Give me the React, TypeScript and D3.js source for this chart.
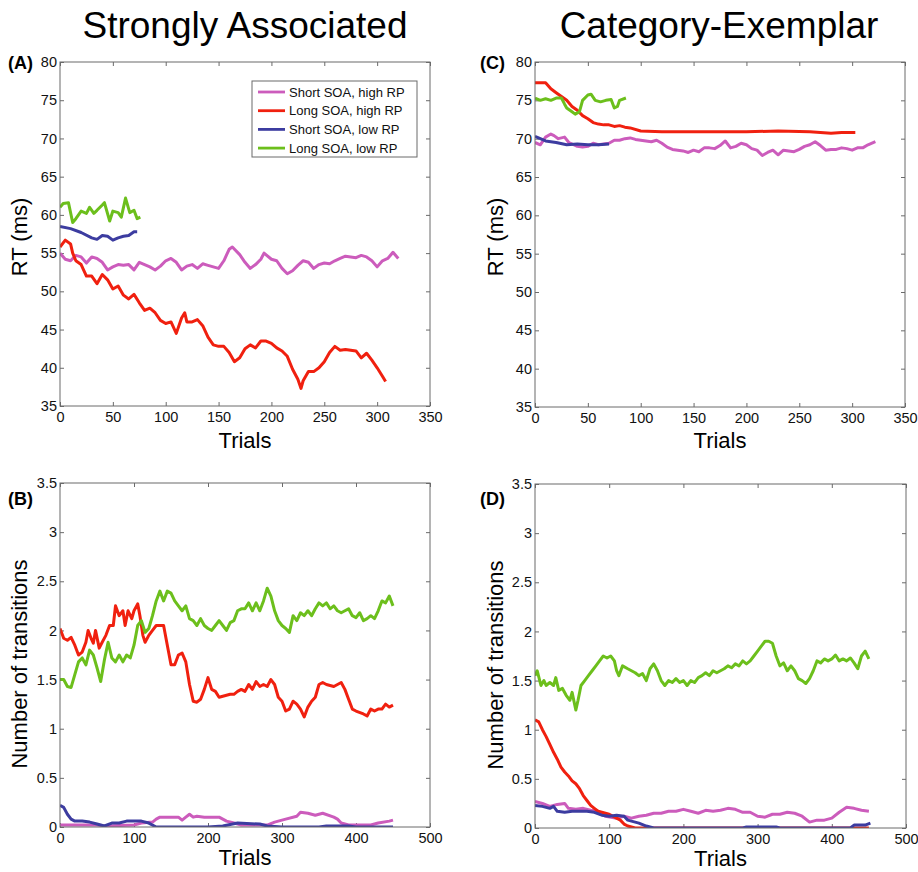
import React, { useEffect, useRef } from 'react';
import * as d3 from 'd3';

// series names + colours
const seriesNames = ['Short SOA, high RP', 'Long SOA, high RP', 'Short SOA, low RP', 'Long SOA, low RP'];
const seriesColors = ['#cc5cbc', '#f0200f', '#3c3ca0', '#6cbf1c'];

// tick values
const rtTicks = [35, 40, 45, 50, 55, 60, 65, 70, 75, 80];
const rtTrialTicks = [0, 50, 100, 150, 200, 250, 300, 350];
const transTicks = [0, 0.5, 1, 1.5, 2, 2.5, 3, 3.5];
const transTrialTicks = [0, 100, 200, 300, 400, 500];

// (A) Strongly associated, RT - [trial, value]
const aPink = [[0,55],[5,54.2],[10,54],[15,54.7],[20,54.5],[25,53.7],[30,54.5],[35,54.3],[40,53.8],[45,52.8],[50,53.2],[55,53.5],[60,53.4],[65,53.5],[70,52.8],[75,53.8],[80,53.5],[85,53.2],[90,52.8],[95,53.3],[100,54],[105,54.3],[110,53.8],[115,52.8],[120,53.3],[125,53.5],[130,53],[135,53.6],[140,53.4],[145,53.2],[150,53],[155,54],[160,55.5],[163,55.8],[170,54.8],[175,53.8],[180,53],[185,53.5],[190,54.2],[193,55],[200,54.2],[205,54],[210,53],[215,52.3],[220,52.7],[225,53.4],[230,54],[235,53.8],[240,53],[245,53.5],[250,53.7],[255,53.6],[260,54],[265,54.3],[270,54.6],[275,54.5],[280,54.4],[285,54.7],[290,54.5],[295,54],[300,53.2],[305,54],[310,54.3],[315,55.1],[320,54.3]];
const aRed = [[0,55.8],[5,56.7],[10,56.2],[12,55],[15,54],[20,53.5],[25,52],[30,52],[35,51],[40,52.2],[45,51.5],[50,50.3],[55,50.7],[60,49.5],[65,49],[70,49.6],[75,48.5],[80,47.5],[85,47.8],[90,47.2],[95,46.2],[100,45.8],[105,46],[110,44.5],[115,46.5],[118,47.2],[120,46],[125,46],[130,46.3],[135,45.5],[140,44],[145,43],[150,42.8],[155,42.8],[160,42],[165,40.8],[170,41.3],[175,42.5],[180,43],[185,42.6],[190,43.5],[195,43.5],[200,43.2],[205,42.6],[210,42.2],[215,41.5],[220,39.8],[225,38.5],[228,37.3],[230,38.3],[235,39.5],[240,39.5],[245,40],[250,40.8],[255,42],[260,42.8],[265,42.3],[270,42.4],[275,42.3],[280,42.2],[285,41.3],[290,41.9],[295,41],[300,40],[305,38.9],[308,38.2]];
const aBlue = [[0,58.5],[10,58.2],[20,57.7],[30,57],[35,56.8],[40,57.3],[45,57.2],[50,56.7],[55,57],[60,57.2],[65,57.3],[70,57.8],[73,57.8]];
const aGreen = [[0,61],[3,61.5],[8,61.6],[12,59],[15,59.5],[20,60.5],[25,60.2],[28,61],[32,60.2],[35,60.6],[40,61.3],[42,61.6],[47,59.2],[50,60.5],[55,60.3],[58,59.7],[62,62.2],[66,60.3],[70,60.6],[73,59.5],[76,59.7]];

// (C) Category-exemplar, RT
const cPink = [[0,69.5],[5,69.2],[10,70.2],[15,70.6],[18,70.4],[22,70],[28,70.2],[32,69.5],[40,69],[45,68.9],[50,69],[55,69.4],[60,69.2],[65,69.3],[70,69.4],[75,69.8],[80,69.8],[85,70],[90,70.1],[95,69.9],[100,69.8],[110,69.6],[115,69.8],[120,69.4],[125,68.9],[130,68.6],[140,68.4],[145,68.2],[150,68.5],[155,68.3],[160,68.8],[165,68.8],[170,68.7],[175,69.1],[180,69.7],[185,68.8],[190,69],[195,69.4],[200,69.2],[205,68.7],[210,68.5],[215,67.8],[220,68.2],[225,68.5],[230,67.9],[235,68.5],[240,68.4],[245,68.3],[250,68.6],[255,69],[260,69.2],[265,69.6],[270,69.1],[275,68.5],[280,68.6],[285,68.6],[290,68.8],[295,68.7],[300,68.5],[305,68.8],[310,68.8],[315,69.2],[322,69.6]];
const cRed = [[0,77.3],[10,77.3],[15,76.5],[20,76],[25,75.5],[30,75],[35,74.2],[40,73.7],[45,73],[50,72.6],[55,72.1],[60,71.9],[65,71.8],[70,71.8],[75,71.6],[80,71.7],[85,71.5],[90,71.4],[100,71],[120,70.9],[150,70.9],[200,70.9],[230,71],[260,70.9],[280,70.7],[290,70.8],[303,70.8]];
const cBlue = [[0,70.3],[10,69.7],[20,69.5],[30,69.2],[40,69.3],[50,69.2],[60,69.2],[70,69.3]];
const cGreen = [[0,75.3],[5,75],[10,75.2],[15,75],[20,75.3],[25,75.3],[28,74.5],[30,74],[35,73.5],[38,73.2],[42,73.5],[45,75],[50,75.7],[53,75.8],[57,75],[62,74.8],[67,75],[72,75.1],[75,74],[78,74.2],[80,75],[86,75.3]];

// (B) Strongly associated, transitions
const bPink = [[0,0.02],[50,0.02],[60,0.01],[100,0.02],[110,0.04],[125,0.05],[130,0.08],[135,0.1],[160,0.1],[165,0.07],[170,0.1],[175,0.13],[180,0.1],[185,0.11],[195,0.1],[215,0.1],[225,0.06],[235,0.04],[245,0.02],[280,0.02],[290,0.05],[305,0.08],[320,0.11],[325,0.15],[335,0.14],[345,0.12],[355,0.14],[370,0.1],[375,0.08],[380,0.04],[390,0.02],[420,0.02],[430,0.04],[445,0.06],[450,0.07]];
const bRed = [[0,2.02],[5,1.92],[10,1.9],[15,1.93],[20,1.85],[25,1.75],[30,1.78],[35,1.88],[38,2],[42,1.92],[45,1.87],[48,2],[53,1.82],[57,1.88],[62,1.95],[67,2.05],[72,2.05],[75,2.25],[80,2.15],[85,2.2],[88,2.05],[92,2.2],[97,2.12],[100,2.2],[105,2.27],[108,2.15],[112,1.95],[115,1.88],[120,1.95],[125,2],[130,2.05],[140,2.05],[145,1.85],[150,1.65],[155,1.65],[160,1.75],[165,1.77],[170,1.68],[175,1.45],[180,1.28],[185,1.27],[190,1.3],[195,1.4],[200,1.52],[205,1.4],[210,1.38],[215,1.32],[220,1.33],[230,1.35],[235,1.35],[240,1.38],[245,1.4],[250,1.38],[255,1.45],[260,1.4],[265,1.48],[270,1.43],[275,1.45],[280,1.43],[285,1.5],[290,1.45],[295,1.32],[300,1.28],[305,1.18],[310,1.2],[315,1.28],[320,1.25],[325,1.2],[330,1.12],[335,1.22],[340,1.28],[345,1.32],[350,1.45],[355,1.47],[360,1.45],[370,1.43],[375,1.45],[380,1.47],[385,1.4],[390,1.3],[395,1.2],[400,1.18],[410,1.15],[415,1.13],[420,1.2],[425,1.18],[430,1.2],[435,1.2],[440,1.25],[445,1.22],[450,1.24]];
const bBlue = [[0,0.22],[5,0.2],[10,0.13],[15,0.08],[20,0.06],[30,0.06],[40,0.05],[50,0.03],[60,0.01],[70,0.04],[80,0.04],[90,0.06],[100,0.06],[110,0.06],[120,0.04],[130,0],[150,0],[200,0],[220,0.01],[240,0.04],[270,0.03],[280,0.01],[300,0],[350,0],[360,0.01],[390,0.01],[400,0],[450,0]];
const bGreen = [[0,1.5],[5,1.5],[10,1.43],[15,1.42],[20,1.55],[25,1.68],[30,1.72],[35,1.65],[40,1.8],[45,1.75],[50,1.62],[55,1.48],[60,1.7],[65,1.88],[70,1.72],[75,1.68],[80,1.75],[85,1.68],[90,1.75],[95,1.72],[100,1.85],[105,2.05],[110,2.1],[115,1.98],[120,2.02],[125,2.15],[130,2.3],[135,2.4],[140,2.3],[145,2.4],[150,2.38],[155,2.3],[160,2.25],[165,2.2],[170,2.25],[175,2.12],[180,2.1],[185,2.05],[190,2.12],[195,2.05],[200,2.02],[205,2],[210,2.05],[215,2.1],[220,2.05],[225,2],[230,2.08],[235,2.1],[240,2.2],[245,2.22],[250,2.22],[255,2.28],[260,2.2],[265,2.28],[270,2.2],[275,2.3],[280,2.43],[285,2.35],[290,2.2],[295,2.1],[300,2.05],[305,2.02],[310,1.98],[315,2.15],[320,2.1],[325,2.18],[330,2.15],[335,2.2],[340,2.15],[345,2.22],[350,2.28],[355,2.25],[360,2.28],[365,2.22],[370,2.25],[375,2.2],[380,2.18],[385,2.2],[390,2.22],[395,2.15],[400,2.13],[405,2.18],[410,2.1],[415,2.12],[420,2.15],[425,2.12],[430,2.2],[435,2.3],[440,2.28],[445,2.35],[450,2.25]];

// (D) Category-exemplar, transitions
const dPink = [[0,0.27],[10,0.25],[20,0.22],[30,0.24],[40,0.25],[45,0.2],[55,0.19],[65,0.2],[75,0.18],[85,0.17],[90,0.15],[95,0.12],[110,0.1],[120,0.12],[130,0.1],[140,0.12],[150,0.13],[160,0.15],[170,0.15],[180,0.17],[190,0.17],[200,0.19],[210,0.17],[220,0.15],[230,0.18],[240,0.17],[250,0.18],[260,0.2],[270,0.19],[280,0.16],[290,0.16],[300,0.12],[310,0.11],[320,0.14],[330,0.14],[340,0.16],[350,0.15],[360,0.12],[370,0.06],[380,0.08],[390,0.08],[400,0.1],[410,0.16],[420,0.21],[430,0.2],[440,0.18],[450,0.17]];
const dRed = [[0,1.1],[5,1.08],[10,1],[15,0.93],[20,0.85],[25,0.77],[30,0.7],[35,0.62],[40,0.57],[45,0.53],[50,0.48],[55,0.45],[60,0.4],[65,0.33],[70,0.28],[75,0.23],[80,0.2],[85,0.17],[90,0.16],[100,0.14],[110,0.1],[115,0.08],[120,0.04],[125,0.02],[130,0.01],[135,0],[450,0]];
const dBlue = [[0,0.23],[10,0.22],[20,0.2],[25,0.22],[30,0.17],[40,0.16],[50,0.17],[60,0.17],[70,0.17],[80,0.16],[90,0.13],[100,0.12],[110,0.13],[120,0.12],[125,0.08],[140,0.05],[150,0.02],[160,0],[280,0],[285,0.01],[325,0.01],[330,0],[425,0],[430,0.03],[445,0.03],[452,0.05]];
const dGreen = [[0,1.55],[3,1.6],[8,1.45],[12,1.5],[15,1.45],[20,1.48],[25,1.45],[28,1.53],[32,1.4],[37,1.42],[42,1.35],[47,1.3],[50,1.38],[55,1.2],[58,1.3],[62,1.45],[67,1.5],[72,1.55],[77,1.6],[82,1.65],[87,1.7],[92,1.75],[97,1.73],[102,1.75],[107,1.7],[110,1.6],[113,1.55],[118,1.65],[125,1.62],[130,1.6],[135,1.58],[140,1.55],[145,1.57],[150,1.5],[155,1.62],[160,1.67],[165,1.6],[170,1.5],[175,1.45],[180,1.5],[185,1.48],[190,1.52],[195,1.48],[200,1.5],[205,1.45],[210,1.5],[215,1.48],[220,1.53],[225,1.55],[230,1.58],[235,1.55],[240,1.6],[245,1.58],[250,1.6],[255,1.62],[260,1.65],[265,1.63],[270,1.67],[275,1.65],[280,1.7],[285,1.67],[290,1.7],[295,1.75],[300,1.8],[305,1.85],[310,1.9],[315,1.9],[320,1.88],[325,1.75],[330,1.65],[335,1.68],[340,1.6],[345,1.65],[350,1.6],[355,1.52],[360,1.5],[365,1.47],[370,1.52],[375,1.6],[380,1.7],[385,1.68],[390,1.72],[395,1.7],[400,1.72],[405,1.76],[410,1.7],[415,1.72],[420,1.7],[425,1.73],[430,1.68],[435,1.62],[440,1.75],[445,1.8],[450,1.72]];

const FONT = '"Liberation Sans", Arial, sans-serif';

type Pt = number[];
type PanelProps = {
  id: string;
  tag: string;
  tagX: number;
  tagY: number;
  left: number;
  top: number;
  width: number;
  height: number;
  xTicks: number[];
  yTicks: number[];
  yLabel: string;
  yLabelY: number;
  yLabelX: number;
  trialsY: number;
  series: Pt[][];
  legend?: boolean;
};

const Panel = (p: PanelProps) => {
  const gRef = useRef<SVGGElement>(null);
  const x = d3.scaleLinear().domain([p.xTicks[0], p.xTicks[p.xTicks.length - 1]]).range([0, p.width]);
  const y = d3.scaleLinear().domain([p.yTicks[0], p.yTicks[p.yTicks.length - 1]]).range([p.height, 0]);

  useEffect(() => {
    const g = d3.select(gRef.current);
    g.selectAll('*').remove();
    const fmt = (d: any) => String(d);

    // axes (inward ticks, matlab style)
    const bottom = g.append('g').attr('transform', `translate(0,${p.height})`)
      .call(d3.axisBottom(x).tickValues(p.xTicks).tickSize(-4).tickPadding(6).tickFormat(fmt));
    const left = g.append('g')
      .call(d3.axisLeft(y).tickValues(p.yTicks).tickSize(-4).tickPadding(3).tickFormat(fmt));
    g.append('g').call(d3.axisTop(x).tickValues(p.xTicks).tickSize(-4).tickFormat(() => ''));
    g.append('g').attr('transform', `translate(${p.width},0)`)
      .call(d3.axisRight(y).tickValues(p.yTicks).tickSize(-4).tickFormat(() => ''));

    g.selectAll('.domain').remove();
    g.selectAll('.tick line').attr('stroke', '#6a6a6a');
    [bottom, left].forEach((a) =>
      a.selectAll('text').attr('font-size', 14.5).attr('font-family', FONT).attr('fill', '#111'));

    // lines, clipped to the box
    const clipId = `clip-${p.id}`;
    g.append('clipPath').attr('id', clipId).append('rect')
      .attr('width', p.width).attr('height', p.height);
    const ln = d3.line<Pt>().x((d) => x(d[0])).y((d) => y(d[1]));
    g.append('g').attr('clip-path', `url(#${clipId})`)
      .selectAll('path')
      .data(p.series)
      .join('path')
      .attr('d', (d) => ln(d))
      .attr('fill', 'none')
      .attr('stroke', (d, i) => seriesColors[i])
      .attr('stroke-width', 3)
      .attr('stroke-linejoin', 'round');

    g.append('rect').attr('width', p.width).attr('height', p.height)
      .attr('fill', 'none').attr('stroke', '#6a6a6a').attr('stroke-width', 1);

    if (p.legend) {
      const lg = g.append('g').attr('transform', 'translate(192,19)');
      lg.append('rect').attr('width', 165).attr('height', 76)
        .attr('fill', '#fff').attr('stroke', '#6a6a6a');
      const rows = lg.selectAll('g.row').data(seriesNames).join('g')
        .attr('class', 'row')
        .attr('transform', (d, i) => `translate(0,${11 + i * 18.7})`);
      rows.append('line').attr('x1', 6).attr('x2', 33)
        .attr('stroke', (d, i) => seriesColors[i]).attr('stroke-width', 2.8);
      rows.append('text').attr('x', 37).attr('dy', '0.35em')
        .attr('font-size', 13).attr('font-family', FONT).attr('fill', '#111')
        .text((d) => d);
    }
  }, [p]);

  return (
    <g>
      <g ref={gRef} transform={`translate(${p.left},${p.top})`} />
      <text x={p.tagX} y={p.tagY} fontFamily={FONT} fontWeight="bold" fontSize={18}>({p.tag})</text>
      <text transform={`translate(${p.yLabelX},${p.yLabelY}) rotate(-90)`} textAnchor="middle"
        fontFamily={FONT} fontSize={22}>{p.yLabel}</text>
      <text x={p.left + p.width / 2} y={p.trialsY} textAnchor="middle"
        fontFamily={FONT} fontSize={22}>Trials</text>
    </g>
  );
};

const App = () => {
  return (
    <svg width={918} height={872} style={{ position: 'absolute', left: 0, top: 0, background: '#fff' }}>
      <text x={245} y={38} textAnchor="middle" fontFamily={FONT} fontSize={37}>Strongly Associated</text>
      <text x={719} y={38} textAnchor="middle" fontFamily={FONT} fontSize={37}>Category-Exemplar</text>
      <Panel id="a" tag="A" tagX={8} tagY={69} left={60} top={62} width={370} height={344}
        xTicks={rtTrialTicks} yTicks={rtTicks} yLabel="RT (ms)" yLabelX={27} yLabelY={237} trialsY={448}
        series={[aPink, aRed, aBlue, aGreen]} legend />
      <Panel id="c" tag="C" tagX={480} tagY={69} left={535} top={62} width={370} height={345}
        xTicks={rtTrialTicks} yTicks={rtTicks} yLabel="RT (ms)" yLabelX={503} yLabelY={237} trialsY={448}
        series={[cPink, cRed, cBlue, cGreen]} />
      <Panel id="b" tag="B" tagX={8} tagY={505} left={60} top={483} width={370} height={344}
        xTicks={transTrialTicks} yTicks={transTicks} yLabel="Number of transitions" yLabelX={27} yLabelY={664}
        trialsY={865} series={[bPink, bRed, bBlue, bGreen]} />
      <Panel id="d" tag="D" tagX={480} tagY={505} left={535} top={484} width={371} height={344}
        xTicks={transTrialTicks} yTicks={transTicks} yLabel="Number of transitions" yLabelX={503} yLabelY={665}
        trialsY={866} series={[dPink, dRed, dBlue, dGreen]} />
    </svg>
  );
};

export default App;
